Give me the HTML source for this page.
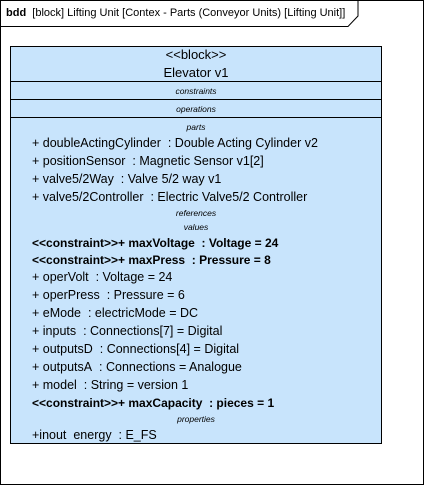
<!DOCTYPE html>
<html><head><style>
body{margin:0;width:424px;height:485px;background:#fff;position:relative;overflow:hidden;font-family:"Liberation Sans",Arial,sans-serif;}
.a{position:absolute;white-space:nowrap;color:#000;}
.r{left:32px;font-size:12.5px;}
.b{font-weight:bold;font-size:12px;}
.s{left:10px;width:372px;text-align:center;font-size:8.5px;font-style:italic;}
</style></head><body>
<svg width="424" height="485" style="position:absolute;left:0;top:0">
<rect x="0.5" y="0.5" width="423" height="484" fill="#fff" stroke="#000"/>
<path d="M0.5 26.5 H348 L358 16 V0.5" fill="none" stroke="#000"/>
<rect x="10.5" y="46.5" width="371" height="397" fill="#c8e4fc" stroke="#000"/>
<line x1="10.5" y1="81.5" x2="381.5" y2="81.5" stroke="#000"/>
<line x1="10.5" y1="99.5" x2="381.5" y2="99.5" stroke="#000"/>
<line x1="10.5" y1="117.5" x2="381.5" y2="117.5" stroke="#000"/>
</svg>
<div class="a" style="left:6px;top:7px;font-size:11px"><b>bdd</b>&nbsp; [block] Lifting Unit [Contex - Parts (Conveyor Units) [Lifting Unit]]</div>
<div class="a" style="left:10px;width:372px;text-align:center;top:47px;font-size:13px">&lt;&lt;block&gt;&gt;</div>
<div class="a" style="left:10px;width:372px;text-align:center;top:65px;font-size:13px">Elevator v1</div>
<div class="a s" style="top:86px">constraints</div>
<div class="a s" style="top:104px">operations</div>
<div class="a s" style="top:122px">parts</div>
<div class="a r" style="top:136px">+ doubleActingCylinder&nbsp; : Double Acting Cylinder v2</div>
<div class="a r" style="top:154px">+ positionSensor&nbsp; : Magnetic Sensor v1[2]</div>
<div class="a r" style="top:172px">+ valve5/2Way&nbsp; : Valve 5/2 way v1</div>
<div class="a r" style="top:190px">+ valve5/2Controller&nbsp; : Electric Valve5/2 Controller</div>
<div class="a s" style="top:208px">references</div>
<div class="a s" style="top:222px">values</div>
<div class="a r b" style="top:236px">&lt;&lt;constraint&gt;&gt;+ maxVoltage&nbsp; : Voltage = 24</div>
<div class="a r b" style="top:253px">&lt;&lt;constraint&gt;&gt;+ maxPress&nbsp; : Pressure = 8</div>
<div class="a r" style="top:270px">+ operVolt&nbsp; : Voltage = 24</div>
<div class="a r" style="top:288px">+ operPress&nbsp; : Pressure = 6</div>
<div class="a r" style="top:306px">+ eMode&nbsp; : electricMode = DC</div>
<div class="a r" style="top:324px">+ inputs&nbsp; : Connections[7] = Digital</div>
<div class="a r" style="top:342px">+ outputsD&nbsp; : Connections[4] = Digital</div>
<div class="a r" style="top:360px">+ outputsA&nbsp; : Connections = Analogue</div>
<div class="a r" style="top:378px">+ model&nbsp; : String = version 1</div>
<div class="a r b" style="top:396px">&lt;&lt;constraint&gt;&gt;+ maxCapacity&nbsp; : pieces = 1</div>
<div class="a s" style="top:414px">properties</div>
<div class="a r" style="top:428px">+inout&nbsp; energy&nbsp; : E_FS</div>
</body></html>
